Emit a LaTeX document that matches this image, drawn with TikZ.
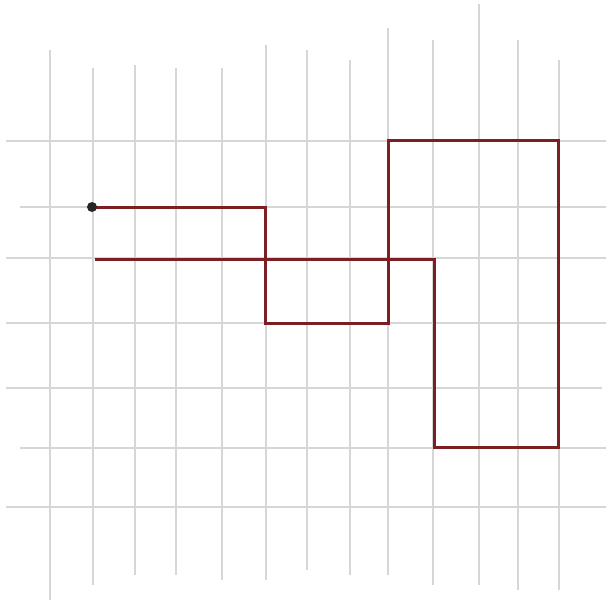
\documentclass[tikz,border=0pt]{standalone}
\begin{document}
\begin{tikzpicture}[x=1pt,y=-1pt,
  gridline/.style={draw=black!16,line width=1.3pt},
  route/.style={draw={rgb,255:red,125;green,30;blue,35},line width=3pt,line join=miter},
  startdot/.style={ellipse,fill=black!85,inner sep=0pt,minimum width=9pt,minimum height=12pt}]
\useasboundingbox[fill=white] (0,0) rectangle (606,606);
% vertical grid lines
\foreach \x/\a/\b in {50/50/600, 93/68/585, 135/65/575, 176/68/575, 222/68/580, 266/45/580, 307/50/570, 350/60/575, 388/28/575, 433/40/585, 479/4/585, 518/40/590, 559/60/590}
  \draw[gridline] (\x,\a) -- (\x,\b);
% horizontal grid lines
\foreach \y/\a/\b in {141/6/606, 207/20/606, 258/6/606, 323/6/606, 388/6/602, 448/20/606, 507/6/606}
  \draw[gridline] (\a,\y) -- (\b,\y);
% route
\coordinate (s) at (92,207);
\coordinate (p1) at (265,207);
\coordinate (p2) at (265,323);
\coordinate (p3) at (388,323);
\coordinate (p4) at (388,140);
\coordinate (p5) at (558,140);
\coordinate (p6) at (558,447);
\coordinate (p7) at (434,447);
\coordinate (p8) at (434,259);
\coordinate (e) at (95,259);
\draw[route] (s) -- (p1) -- (p2) -- (p3) -- (p4) -- (p5) -- (p6) -- (p7) -- (p8) -- (e);
\node[circle,fill=black!85,inner sep=0pt,minimum size=10pt] (dot) at (s) {};
\end{tikzpicture}
\end{document}
